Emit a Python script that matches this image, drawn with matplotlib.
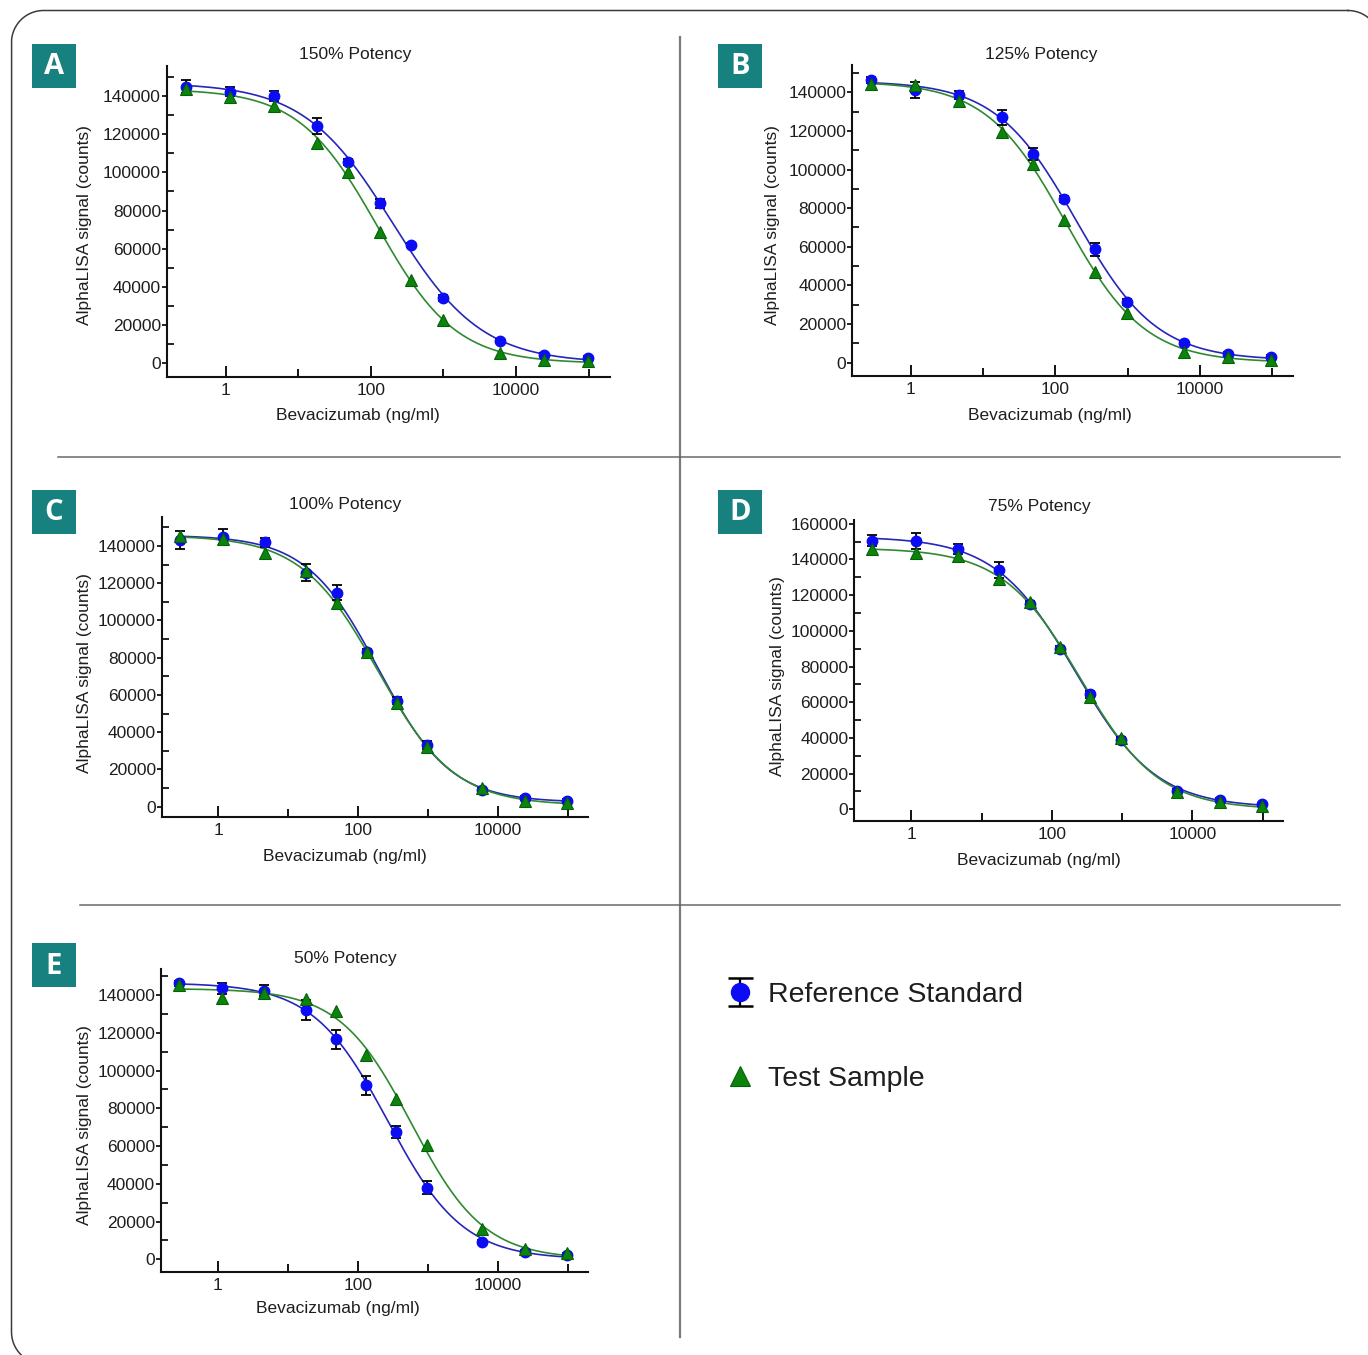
import numpy as np
import matplotlib
matplotlib.use('Agg')
import matplotlib.pyplot as plt
from matplotlib.patches import Rectangle
from matplotlib.lines import Line2D
from matplotlib.ticker import FixedLocator, NullFormatter, FixedFormatter

plt.rcParams['font.family'] = ['Liberation Sans', 'DejaVu Sans']

# ---------------- data ----------------
conc = [0.28, 1.15, 4.6, 18, 49, 132, 355, 980, 6000, 24500, 98000]
panel_letters = ['A', 'B', 'C', 'D', 'E']
titles = ['150% Potency', '125% Potency', '100% Potency', '75% Potency', '50% Potency']
x_major_ticks = [1, 100, 10000]
x_major_labels = ['1', '100', '10000']
x_minor_ticks = [10, 1000, 100000]

ref_A = [144850, 142200, 140000, 124250, 105600, 83770, 61950, 34030, 11700, 4360, 2600]
ref_A_err = [3500, 2300, 2500, 4000, 1500, 2500, 1200, 1500, 1000, 1000, 1000]
test_A = [143450, 139600, 134900, 115200, 100000, 68940, 43630, 22690, 5240, 1750, 1400]

ref_B = [146400, 141200, 138600, 127050, 108060, 84590, 58690, 31590, 10360, 4490, 2760]
ref_B_err = [1500, 4000, 2000, 4000, 3000, 1500, 3500, 1500, 1000, 1000, 1000]
test_B = [144300, 143800, 135500, 119300, 102900, 73880, 47120, 25550, 5700, 3100, 1380]

ref_C = [143240, 145030, 141990, 125700, 114950, 83260, 56940, 33120, 8950, 4480, 3220]
ref_C_err = [5000, 4000, 2500, 4500, 4000, 1500, 2000, 2000, 1000, 1000, 1000]
test_C = [145400, 143600, 136470, 126770, 109580, 83260, 55510, 31870, 9850, 3220, 2150]

ref_D = [150500, 150500, 145800, 134080, 115000, 89640, 64400, 38840, 10460, 5230, 2800]
ref_D_err = [3000, 4500, 3000, 4500, 1500, 2000, 2000, 1500, 1000, 1000, 1000]
test_D = [145800, 143400, 141900, 128850, 115970, 90760, 63120, 40150, 9520, 3920, 2050]

ref_E = [146150, 143500, 142270, 132030, 116500, 92140, 67430, 37950, 9000, 3700, 2300]
ref_E_err = [1500, 3000, 3000, 5500, 5000, 5000, 3000, 3500, 1000, 1000, 1000]
test_E = [145260, 138200, 140850, 137850, 131680, 108030, 84730, 60370, 15890, 5470, 3180]

ref_all = [ref_A, ref_B, ref_C, ref_D, ref_E]
ref_err_all = [ref_A_err, ref_B_err, ref_C_err, ref_D_err, ref_E_err]
test_all = [test_A, test_B, test_C, test_D, test_E]

# ---------------- layout (pixels) ----------------
W, H = 1368, 1355
boxes = [(166.5, 66, 609.6, 376.7),
         (852, 65, 1293, 375.7),
         (161.5, 516.7, 588, 816.7),
         (854, 520, 1283, 820.7),
         (160.8, 969.3, 588, 1271.7)]
ylims = [(-7020, 155700), (-6730, 154100), (-5370, 155740), (-6390, 162080), (-6570, 153610)]
ymax_tick = [140000, 140000, 140000, 160000, 140000]
xlim = (10 ** -0.815, 10 ** 5.29)
title_pos = [(355, 55), (1041, 54), (345, 504), (1039, 507), (345, 959)]
xlabel_pos = [(358, 415), (1050, 415), (345, 857), (1039, 860), (338, 1308)]
ylabel_pos = [(84, 225), (773, 225), (85, 673), (777, 676), (84, 1125)]
letter_boxes = [(32, 44), (718, 44), (32, 490), (718, 490), (32, 943)]

TEAL = '#17817f'
BLUE = '#0b0bf5'
BLUE_LINE = '#2626b8'
GREEN = '#0c840c'
GREEN_EDGE = '#05600a'
GREEN_LINE = '#2f8a2f'
TXT = '#1e1e1e'
FS = 12.5


def fx(px):
    return px / W


def fy(py):
    return 1 - py / H


def fit4pl(x, y):
    """Least-squares 4-parameter logistic fit (grid over EC50/Hill, linear in top/bottom)."""
    lx = np.log10(np.asarray(x, float))
    y = np.asarray(y, float)
    lcs = np.linspace(0.5, 4.0, 351)
    hs = np.linspace(0.4, 1.8, 141)
    LC, HH = np.meshgrid(lcs, hs, indexing='ij')
    LC = LC.ravel()[:, None]
    HH = HH.ravel()[:, None]
    S = 1.0 / (1.0 + 10 ** (HH * (lx[None, :] - LC)))
    Sm = S.mean(axis=1, keepdims=True)
    ym = y.mean()
    slope = ((S - Sm) * (y - ym)).sum(axis=1, keepdims=True) / ((S - Sm) ** 2).sum(axis=1, keepdims=True)
    inter = ym - slope * Sm
    resid = ((inter + slope * S - y) ** 2).sum(axis=1)
    i = np.argmin(resid)
    return float(inter[i, 0]), float(slope[i, 0]), float(LC[i, 0]), float(HH[i, 0])


def curve(params, xs):
    b, span, lc, h = params
    return b + span / (1.0 + 10 ** (h * (np.log10(xs) - lc)))


def rounded_rect(x0, y0, x1, y1, r, n=40):
    pts = []
    corners = [(x1 - r, y0 + r, -90, 0), (x1 - r, y1 - r, 0, 90),
               (x0 + r, y1 - r, 90, 180), (x0 + r, y0 + r, 180, 270)]
    for cx, cy, a0, a1 in corners:
        a = np.radians(np.linspace(a0, a1, n))
        pts.append(np.column_stack([cx + r * np.cos(a), cy + r * np.sin(a)]))
    p = np.vstack(pts)
    return np.vstack([p, p[:1]])


fig = plt.figure(figsize=(W / 100, H / 100), dpi=100)

# background layer: border, dividers, panel letter boxes
bg = fig.add_axes([0, 0, 1, 1], zorder=-5)
bg.set_xlim(0, W)
bg.set_ylim(H, 0)
bg.axis('off')
rr = rounded_rect(11.5, 10.5, 1380, 1364, 32)
bg.plot(rr[:, 0], rr[:, 1], color='#3c3c3c', lw=1.1, clip_on=True)
bg.add_line(Line2D([680, 680], [37, 1337], color='#7a7a7a', lw=1.6))
bg.add_line(Line2D([58, 1340], [457, 457], color='#6a6a6a', lw=1.1))
bg.add_line(Line2D([80, 1340], [905, 905], color='#6a6a6a', lw=1.1))

for (lx0, ly0), letter in zip(letter_boxes, panel_letters):
    bg.add_patch(Rectangle((lx0, ly0), 44, 44, fc=TEAL, ec='none'))
    bg.text(lx0 + 22, ly0 + 23, letter, color='white', fontsize=21, fontweight='bold',
            family=['Open Sans', 'DejaVu Sans'], ha='center', va='center')

xs_curve = np.logspace(np.log10(conc[0]), np.log10(conc[-1]), 400)

for k in range(5):
    l, t, r, b = boxes[k]
    ax = fig.add_axes([fx(l), fy(b), fx(r - l), (b - t) / H])
    ax.set_xscale('log')
    ax.set_xlim(*xlim)
    ax.set_ylim(*ylims[k])
    for s in ['top', 'right']:
        ax.spines[s].set_visible(False)
    for s in ['left', 'bottom']:
        ax.spines[s].set_linewidth(1.5)
        ax.spines[s].set_color('#111111')

    # fitted curves
    p_ref = fit4pl(conc, ref_all[k])
    p_test = fit4pl(conc, test_all[k])
    ax.plot(xs_curve, curve(p_ref, xs_curve), color=BLUE_LINE, lw=1.2, zorder=2)
    ax.plot(xs_curve, curve(p_test, xs_curve), color=GREEN_LINE, lw=1.2, zorder=2)

    # points
    ax.errorbar(conc, ref_all[k], yerr=ref_err_all[k], fmt='o', color=BLUE, mec=BLUE,
                ms=7.5, ecolor='black', elinewidth=1.3, capsize=3.8, capthick=1.3, zorder=4)
    ax.plot(conc, test_all[k], ls='none', marker='^', ms=8.5, color=GREEN, mec=GREEN_EDGE,
            mew=0.8, zorder=5)

    # x ticks
    ax.xaxis.set_major_locator(FixedLocator(x_major_ticks))
    ax.xaxis.set_minor_locator(FixedLocator(x_minor_ticks))
    ax.xaxis.set_major_formatter(FixedFormatter(x_major_labels))
    ax.xaxis.set_minor_formatter(NullFormatter())
    ax.tick_params(axis='x', which='major', direction='in', length=8, width=1.3,
                   labelsize=FS, pad=4.5, labelcolor=TXT)
    ax.tick_params(axis='x', which='minor', direction='in', length=6, width=1.3)

    # y ticks
    maj = list(range(0, ymax_tick[k] + 1, 20000))
    mnr = list(range(10000, ymax_tick[k] + 10001, 20000))
    ax.yaxis.set_major_locator(FixedLocator(maj))
    ax.yaxis.set_minor_locator(FixedLocator([v for v in mnr if v < ylims[k][1]]))
    ax.yaxis.set_major_formatter(FixedFormatter([str(v) for v in maj]))
    ax.tick_params(axis='y', which='major', direction='out', length=3.5, width=1.2,
                   labelsize=FS, pad=0.5, labelcolor=TXT)
    ax.tick_params(axis='y', which='minor', direction='in', length=5, width=1.2)

    fig.text(fx(title_pos[k][0]), fy(title_pos[k][1]), titles[k], ha='center', va='center',
             fontsize=FS, color=TXT)
    fig.text(fx(xlabel_pos[k][0]), fy(xlabel_pos[k][1]), 'Bevacizumab (ng/ml)', ha='center',
             va='center', fontsize=FS, color=TXT)
    fig.text(fx(ylabel_pos[k][0]), fy(ylabel_pos[k][1]), 'AlphaLISA signal (counts)', ha='center',
             va='center', fontsize=FS, color=TXT, rotation=90)

# legend
proxy_ref = bg.errorbar([np.nan], [np.nan], yerr=[1], fmt='o', color=BLUE, mec=BLUE, ms=13,
                        ecolor='black', elinewidth=1.6, capsize=9, capthick=1.8)
proxy_test = Line2D([], [], ls='none', marker='^', ms=15, color=GREEN, mec=GREEN_EDGE, mew=0.8)
fig.legend(handles=[proxy_ref, proxy_test], labels=['Reference Standard', 'Test Sample'],
           loc='upper left', bbox_to_anchor=(fx(724), fy(982)), frameon=False,
           fontsize=20.5, labelspacing=2.05, handlelength=1.1, handletextpad=0.45,
           borderpad=0, borderaxespad=0, labelcolor=TXT)

fig.savefig('out.png', dpi=100, facecolor='white')
